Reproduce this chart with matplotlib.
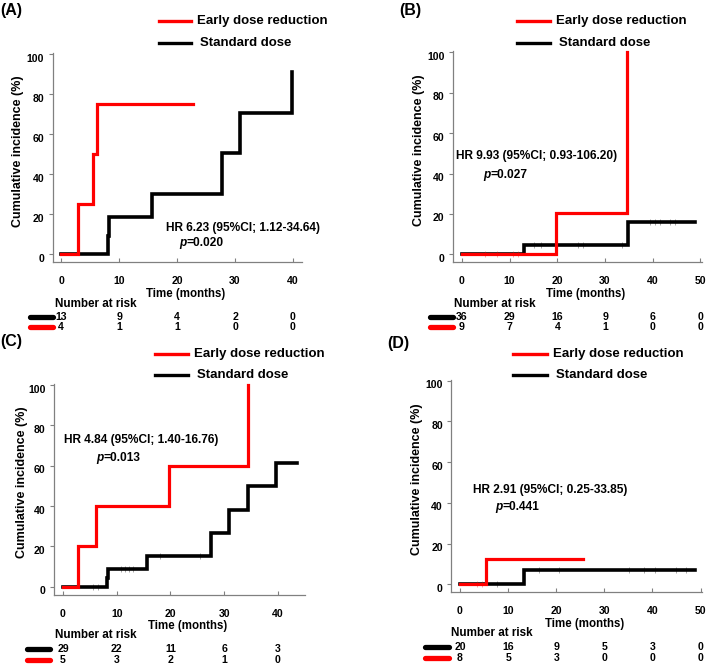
import matplotlib
matplotlib.use('Agg')
import numpy as np
import matplotlib.pyplot as plt
from matplotlib.lines import Line2D
import matplotlib.transforms as mtrans

plt.rcParams['font.family'] = ['Liberation Sans', 'DejaVu Sans']
plt.rcParams['font.weight'] = 'bold'

# ---------------- data ----------------
legend_labels = ["Early dose reduction", "Standard dose"]
risk_title = "Number at risk"

# Panel A
A_red_t = [0, 2.8, 5.4, 6.1, 22.7]
A_red_y = [0, 25, 50, 75, 75]
A_blk_t = [0, 8.1, 8.3, 15.6, 27.8, 30.9, 39.8]
A_blk_y = [0, 9.1, 18.8, 30.4, 50.4, 70.7, 90.9]
A_xticks = [0, 10, 20, 30, 40]
A_risk_blk = [13, 9, 4, 2, 0]
A_risk_red = [4, 1, 1, 0, 0]
A_hr = "HR 6.23 (95%CI; 1.12-34.64)"
A_p = "=0.020"

# Panel B
B_red_t = [0, 19.8, 34.5]
B_red_y = [0, 20.3, 100]
B_blk_t = [0, 13.1, 34.8, 48.8]
B_blk_y = [0, 4.6, 16.2, 16.2]
B_red_cens = [4.8, 7.3, 10.7, 11.7]
B_blk_cens = [15.2, 16.6, 24.4, 25.4, 33.5, 39.4, 40.5, 41.5, 43.6, 44.6]
B_xticks = [0, 10, 20, 30, 40, 50]
B_risk_blk = [36, 29, 16, 9, 6, 0]
B_risk_red = [9, 7, 4, 1, 0, 0]
B_hr = "HR 9.93 (95%CI; 0.93-106.20)"
B_p = "=0.027"

# Panel C
C_red_t = [0, 2.85, 6.1, 19.7, 34.4]
C_red_y = [0, 20, 40, 60, 100]
C_blk_t = [0, 8.1, 8.3, 15.6, 27.6, 30.9, 34.5, 39.7, 43.5]
C_blk_y = [0, 4.4, 8.8, 15.2, 26.4, 38.0, 49.9, 61.2, 61.2]
C_blk_cens = [5.5, 6.5, 10.8, 11.5, 12.3, 13.0, 18.0, 25.5]
C_xticks = [0, 10, 20, 30, 40]
C_risk_blk = [29, 22, 11, 6, 3]
C_risk_red = [5, 3, 2, 1, 0]
C_hr = "HR 4.84 (95%CI; 1.40-16.76)"
C_p = "=0.013"

# Panel D
D_red_t = [0, 5.4, 25.6]
D_red_y = [0, 12.6, 12.6]
D_blk_t = [0, 13.3, 48.8]
D_blk_y = [0, 6.9, 6.9]
D_red_cens = [3.5, 4.6]
D_blk_cens = [7.7, 16.4, 20.6, 35.2, 38.2, 40.6, 44.8, 47.0]
D_xticks = [0, 10, 20, 30, 40, 50]
D_risk_blk = [20, 16, 9, 5, 3, 0]
D_risk_red = [8, 5, 3, 0, 0, 0]
D_hr = "HR 2.91 (95%CI; 0.25-33.85)"
D_p = "=0.441"

# ---------------- layout ----------------
W, H = 709, 665
fig = plt.figure(figsize=(W / 100, H / 100), dpi=100)

RED = '#ff0000'
BLK = '#000000'
SPINE = '#808080'
YLIM = (-4, 100.6)


def fx(x):
    return x / W


def fy(y):
    return 1 - y / H


def step_val(t, y, tc):
    idx = np.searchsorted(np.asarray(t), np.asarray(tc), side='right') - 1
    return np.asarray(y)[idx]


panels = [
    dict(lab="(A)", rect=(52.6, 53.1, 302.3, 262.3), xlim=(-1.5, 41.6),
         red=(A_red_t, A_red_y), blk=(A_blk_t, A_blk_y), red_c=[], blk_c=[],
         xticks=A_xticks, rb=A_risk_blk, rr=A_risk_red, hr=A_hr, p=A_p,
         labpos=(0, 11), leg=(159, 191, 21, 43), hrpos=(166, 228), ppos=(179, 243),
         ylab_x=18, xlab_y=294, risk=(55, 304, 317, 327), seg=(30, 53)),
    dict(lab="(B)", rect=(452.9, 51.1, 701.9, 262.4), xlim=(-1.9, 50.3),
         red=(B_red_t, B_red_y), blk=(B_blk_t, B_blk_y), red_c=B_red_cens, blk_c=B_blk_cens,
         xticks=B_xticks, rb=B_risk_blk, rr=B_risk_red, hr=B_hr, p=B_p,
         labpos=(399, 11), leg=(517, 550, 21, 43), hrpos=(456, 156), ppos=(483, 175),
         ylab_x=419, xlab_y=294, risk=(454, 304, 317, 327), seg=(430, 453)),
    dict(lab="(C)", rect=(53.9, 383.8, 305.2, 594.8), xlim=(-1.7, 45.1),
         red=(C_red_t, C_red_y), blk=(C_blk_t, C_blk_y), red_c=[], blk_c=C_blk_cens,
         xticks=C_xticks, rb=C_risk_blk, rr=C_risk_red, hr=C_hr, p=C_p,
         labpos=(0, 342), leg=(155, 188, 354, 375), hrpos=(64, 440), ppos=(96, 458),
         ylab_x=22, xlab_y=626, risk=(55, 635, 649, 660), seg=(27, 50)),
    dict(lab="(D)", rect=(451.3, 379.5, 702.0, 592.4), xlim=(-1.8, 50.3),
         red=(D_red_t, D_red_y), blk=(D_blk_t, D_blk_y), red_c=D_red_cens, blk_c=D_blk_cens,
         xticks=D_xticks, rb=D_risk_blk, rr=D_risk_red, hr=D_hr, p=D_p,
         labpos=(387, 343), leg=(513, 547, 354, 375), hrpos=(473, 490), ppos=(495, 507),
         ylab_x=417, xlab_y=624, risk=(451, 633, 647, 658), seg=(425, 449)),
]

for P in panels:
    x0, y0, x1, y1 = P['rect']
    ax = fig.add_axes([fx(x0), fy(y1), (x1 - x0) / W, (y1 - y0) / H])
    ax.set_xlim(*P['xlim'])
    ax.set_ylim(*YLIM)
    ax.patch.set_alpha(0)
    for s in ['top', 'right']:
        ax.spines[s].set_visible(False)
    for s in ['left', 'bottom']:
        ax.spines[s].set_color(SPINE)
        ax.spines[s].set_linewidth(0.9)
    ax.set_yticks([0, 20, 40, 60, 80, 100])
    ax.set_xticks(P['xticks'])
    ax.tick_params(axis='y', direction='out', length=3, width=0.8, color=SPINE,
                   labelsize=7.6, pad=3)
    ax.tick_params(axis='x', direction='in', length=3, width=0.8, color=SPINE,
                   labelsize=7.6, pad=10)
    shift = mtrans.ScaledTranslation(0, -3.5 / 100, fig.dpi_scale_trans)
    for lbl in ax.get_yticklabels():
        lbl.set_transform(lbl.get_transform() + shift)
    for lbl in ax.get_xticklabels() + ax.get_yticklabels():
        lbl.set_fontweight('bold')

    # curves
    bt, by = P['blk']
    ax.step(bt, by, where='post', color=BLK, lw=2.6, solid_joinstyle='miter',
            zorder=3, clip_on=False)
    if P['blk_c']:
        ax.plot(P['blk_c'], step_val(bt, by, P['blk_c']), ls='none', marker='|',
                ms=4, mew=0.7, color=BLK, alpha=0.35, zorder=4)
    rt, ry = P['red']
    ax.step(rt, ry, where='post', color=RED, lw=2.3, solid_joinstyle='miter',
            zorder=5, clip_on=False)
    if P['red_c']:
        ax.plot(P['red_c'], step_val(rt, ry, P['red_c']), ls='none', marker='|',
                ms=4, mew=0.7, color=RED, alpha=0.35, zorder=6)

    # axis labels
    fig.text(fx(P['ylab_x']), fy((y0 + y1) / 2 - 7), "Cumulative incidence (%)",
             rotation=90, ha='center', va='center', fontsize=9, fontweight='bold')
    fig.text(fx((x0 + x1) / 2 + 8), fy(P['xlab_y']), "Time (months)",
             ha='center', va='center', fontsize=8.3, fontweight='bold')

    # panel label
    lx, ly = P['labpos']
    fig.text(fx(lx), fy(ly), P['lab'], ha='left', va='center', fontsize=11.5,
             fontweight='bold')

    # legend
    la, lb, lr, lk = P['leg']
    fig.add_artist(Line2D([fx(la), fx(lb)], [fy(lr), fy(lr)], color=RED, lw=2.4,
                          transform=fig.transFigure))
    fig.add_artist(Line2D([fx(la), fx(lb)], [fy(lk), fy(lk)], color=BLK, lw=2.4,
                          transform=fig.transFigure))
    fig.text(fx(lb + 6), fy(lr), legend_labels[0], ha='left', va='center',
             fontsize=9.5, fontweight='bold')
    fig.text(fx(lb + 9), fy(lk), legend_labels[1], ha='left', va='center',
             fontsize=9.5, fontweight='bold')

    # HR and p
    hx, hy = P['hrpos']
    fig.text(fx(hx), fy(hy), P['hr'], ha='left', va='center', fontsize=8.6,
             fontweight='bold')
    px_, py_ = P['ppos']
    tp = fig.text(fx(px_), fy(py_), "p", ha='left', va='center', fontsize=8.6,
                  fontweight='bold', fontstyle='italic')
    ax.annotate(P['p'], xy=(1, 0.5), xycoords=tp, ha='left', va='center',
                fontsize=8.6, fontweight='bold', annotation_clip=False)

    # number at risk
    rx, rty, r1, r2 = P['risk']
    fig.text(fx(rx), fy(rty), risk_title, ha='left', va='center', fontsize=8.4,
             fontweight='bold')
    sa, sb = P['seg']
    fig.add_artist(Line2D([fx(sa), fx(sb)], [fy(r1), fy(r1)], color=BLK, lw=3.8,
                          solid_capstyle='round', transform=fig.transFigure))
    fig.add_artist(Line2D([fx(sa), fx(sb)], [fy(r2), fy(r2)], color=RED, lw=3.8,
                          solid_capstyle='round', transform=fig.transFigure))
    tr = mtrans.blended_transform_factory(ax.transData, fig.transFigure)
    for xt, nb, nr in zip(P['xticks'], P['rb'], P['rr']):
        ax.text(xt, fy(r1), str(nb), transform=tr, ha='center', va='center',
                fontsize=7.6, fontweight='bold', clip_on=False)
        ax.text(xt, fy(r2), str(nr), transform=tr, ha='center', va='center',
                fontsize=7.6, fontweight='bold', clip_on=False)

fig.savefig('out.png', dpi=100)
